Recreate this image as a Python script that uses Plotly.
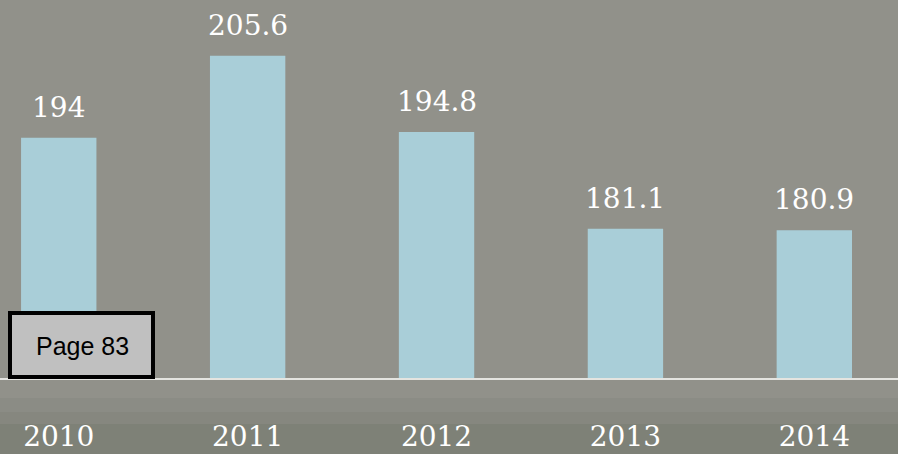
import plotly.graph_objects as go

years = ["2010", "2011", "2012", "2013", "2014"]
values = [194, 205.6, 194.8, 181.1, 180.9]
value_labels = ["194", "205.6", "194.8", "181.1", "180.9"]
positions = list(range(len(years)))

BG = "#91918a"
BAR = "#a9ced8"
SERIF = "DejaVu Serif, Liberation Serif, serif"
BASE = 160

W, H = 898, 454
PLOT_BOTTOM = 378  # pixel of the baseline

fig = go.Figure()
fig.add_trace(go.Bar(
    x=positions, y=[v - BASE for v in values], base=BASE, width=0.399,
    marker=dict(color=BAR, line=dict(width=0)),
    hoverinfo="skip",
))

for xp, v, lab in zip(positions, values, value_labels):
    fig.add_annotation(
        x=xp, y=v, xref="x", yref="y", text=lab, showarrow=False,
        xanchor="center", yanchor="bottom", yshift=12,
        font=dict(family=SERIF, size=28, color="white"),
    )

def py(p):
    return (PLOT_BOTTOM - p) / PLOT_BOTTOM

# darker band near bottom (approximation of the background texture)
bands = [(398, 412, 0.08), (412, 424, 0.16), (424, 454, 0.28)]
for y0, y1, op in bands:
    fig.add_shape(type="rect", xref="paper", yref="paper", x0=0, x1=1,
                  y0=py(y1), y1=py(y0), fillcolor="#4f5848", opacity=op,
                  line=dict(width=0), layer="below")

# Page box
fig.add_shape(type="rect", xref="paper", yref="paper",
              x0=10 / W, x1=153 / W, y0=py(377), y1=py(313),
              fillcolor="#c0c0c0", line=dict(color="black", width=4), layer="above")
fig.add_annotation(x=82 / W, y=py(346), xref="paper", yref="paper",
                   xanchor="center", yanchor="middle",
                   text="Page 83", showarrow=False,
                   font=dict(family="Liberation Sans, Arial, sans-serif", size=25, color="black"))

fig.update_layout(
    width=W, height=H,
    margin=dict(l=0, r=0, t=0, b=H - PLOT_BOTTOM, autoexpand=False),
    paper_bgcolor=BG, plot_bgcolor=BG,
    showlegend=False,
    xaxis=dict(
        range=[-0.311, 4.443], tickmode="array", tickvals=positions, ticktext=years,
        showgrid=False, zeroline=False, showline=True, linecolor="#e4e4e0", linewidth=2,
        ticks="", ticklabelstandoff=32, automargin=False,
        tickfont=dict(family=SERIF, size=28, color="white"),
        fixedrange=True,
    ),
    yaxis=dict(range=[BASE, 213.48], visible=False, showgrid=False, zeroline=False,
               fixedrange=True, automargin=False),
)

fig.write_html(
    "out.html",
    config={"displayModeBar": False},
    post_script="document.body.style.margin='0';document.body.style.overflow='hidden';",
)
